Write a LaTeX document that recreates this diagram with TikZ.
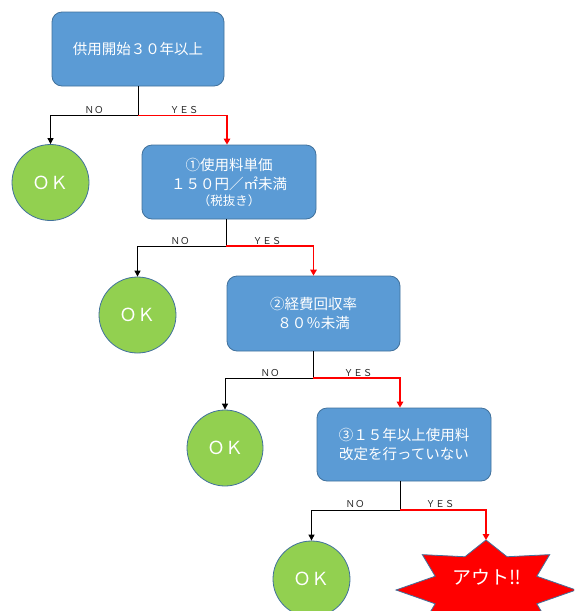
\documentclass[tikz,border=0pt]{standalone}
\usepackage{fontspec}
\setmainfont{Noto Sans CJK JP}
\usetikzlibrary{arrows.meta,shapes.geometric}
\definecolor{boxblue}{HTML}{5B9BD5}
\definecolor{edgeblue}{HTML}{41719C}
\definecolor{okgreen}{HTML}{92D050}
\definecolor{outred}{HTML}{FF0000}
\begin{document}
\begin{tikzpicture}[x=1pt,y=-1pt,
  decbox/.style={draw=edgeblue, line width=0.8pt, fill=boxblue, rounded corners=10pt,
    minimum width=174pt, minimum height=74pt, text=white, align=center,
    font=\fontsize{14.5}{19}\selectfont, inner sep=0pt},
  okcirc/.style={ellipse, draw=edgeblue, line width=0.8pt, fill=okgreen, text=white,
    minimum width=77pt, minimum height=76pt, inner sep=0pt,
    font=\fontsize{18}{18}\selectfont},
  noline/.style={draw=black, line width=0.9pt},
  noarrow/.style={noline, -{Triangle[length=6pt,width=6pt]}},
  yesline/.style={draw=outred, line width=1.8pt},
  yesarrow/.style={yesline, -{Triangle[length=6pt,width=6.5pt]}},
  lbl/.style={font=\fontsize{9.5}{9.5}\selectfont, text=black!85, inner sep=0pt, anchor=base},
  starshape/.style={fill=outred, draw=edgeblue, line width=0.8pt}
]
\useasboundingbox (0,0) rectangle (574,611);
\clip (0,0) rectangle (574,611);
\fill[white] (0,0) rectangle (574,611);

% star
\draw[starshape] ({486+90*cos(90)},{590-50*sin(90)})
  \foreach \k in {1,...,15}{ -- ({486+ifthenelse(isodd(\k),55,90)*cos(90+22.5*\k)},{590-ifthenelse(isodd(\k),36,50)*sin(90+22.5*\k)}) } -- cycle;
\coordinate (startop) at (486,540);
\node[text=white, font=\fontsize{19}{19}\selectfont, inner sep=0pt] (out) at (487,577) {アウト‼};

% boxes
\node[decbox, minimum width=172pt] (b1) at (138,49) {供用開始３０年以上};
\node[decbox] (b2) at (229,182) {①使用料単価\\１５０円／㎡未満\\[-3pt]{\fontsize{12.5}{14}\selectfont （税抜き）}};
\node[decbox, minimum width=173pt, minimum height=75pt] (b3) at (313.5,313.5) {②経費回収率\\８０％未満};
\node[decbox, minimum height=73pt] (b4) at (404,444.5) {③１５年以上使用料\\改定を行っていない};

% OK circles
\node[okcirc] (ok1) at (50.5,182.5) {ＯＫ};
\node[okcirc] (ok2) at (137.5,315) {ＯＫ};
\node[okcirc, minimum width=76pt] (ok3) at (225,448) {ＯＫ};
\node[okcirc] (ok4) at (311.5,579) {ＯＫ};

% junctions
\coordinate (j1) at (138,115.5);
\coordinate (j2) at (226,246);
\coordinate (j3) at (313,378);
\coordinate (j4) at (400,510);

% level 1
\draw[noline] (b1.south -| j1) -- (j1);
\draw[noarrow] (j1) -| (ok1.north);
\draw[yesarrow] (j1) -| ([xshift=-2pt]b2.north);
\node[lbl] (no1) at (94,113) {ＮＯ};
\node[lbl] (yes1) at (184,113) {ＹＥＳ};

% level 2
\draw[noline] (b2.south -| j2) -- (j2);
\draw[noarrow] (j2) -| (ok2.north);
\draw[yesarrow] (j2) -| (b3.north);
\node[lbl] (no2) at (180,244) {ＮＯ};
\node[lbl] (yes2) at (267,244) {ＹＥＳ};

% level 3
\draw[noline] (b3.south -| j3) -- (j3);
\draw[noarrow] (j3) -| (ok3.north);
\draw[yesarrow] (j3) -| ([xshift=-4pt]b4.north);
\node[lbl] (no3) at (270,376) {ＮＯ};
\node[lbl] (yes3) at (358,376) {ＹＥＳ};

% level 4
\draw[noline] (b4.south -| j4) -- (j4);
\draw[noarrow] (j4) -| (ok4.north);
\draw[yesarrow] (j4) -| (startop);
\node[lbl] (no4) at (355,507) {ＮＯ};
\node[lbl] (yes4) at (440,507) {ＹＥＳ};
\end{tikzpicture}
\end{document}
